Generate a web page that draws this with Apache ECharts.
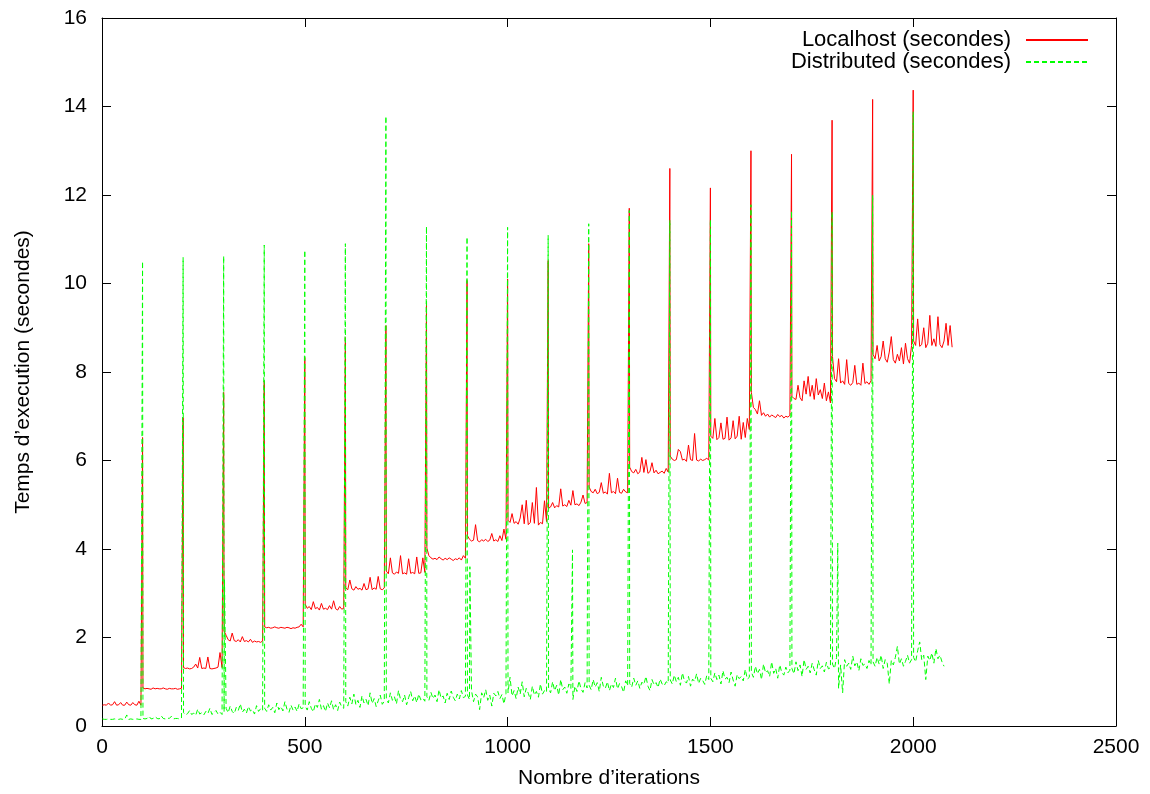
<!DOCTYPE html>
<html>
<head>
<meta charset="utf-8">
<title>Temps d'execution</title>
<script src="https://cdn.jsdelivr.net/npm/echarts@6/dist/echarts.min.js"></script>
<style>
    html, body { margin: 0; padding: 0; background: #fff; }
    #main { width: 1150px; height: 794px; }
</style>
</head>
<body>
<div id="main"></div>
<script>
// une valeur toutes les 5 iterations dans chaque bloc de 100 (x = 100*k + 1 + 5*i)
// le pic du debut de bloc est a x = 100*k
var xTicks = [0, 500, 1000, 1500, 2000, 2500];
var yTicks = [0, 2, 4, 6, 8, 10, 12, 14, 16];

var localSpikes = [6.52, 6.97, 7.54, 7.80, 8.33, 8.78, 9.05, 9.55, 10.07, 10.10,
    10.52, 10.90, 11.70, 12.60, 12.16, 13.00, 12.92, 13.69, 14.16, 14.37];

var localBlocks = [
    [0.47,0.48,0.47,0.52,0.47,0.48,0.55,0.47,0.48,0.53,0.47,0.47,0.54,0.48,0.47,0.53,0.48,0.47,0.56,0.47],
    [0.86,0.84,0.85,0.84,0.83,0.86,0.84,0.85,0.84,0.84,0.86,0.84,0.83,0.85,0.84,0.84,0.85,0.83,0.84,0.85],
    [1.32,1.30,1.31,1.29,1.30,1.33,1.40,1.31,1.55,1.30,1.31,1.30,1.56,1.30,1.29,1.30,1.31,1.33,1.66,1.32],
    [2.15,2.05,1.95,1.92,2.10,1.93,1.91,1.95,1.90,2.02,1.91,1.93,1.90,1.96,1.89,1.92,1.90,1.91,1.89,1.92],
    [2.24,2.22,2.23,2.21,2.22,2.24,2.22,2.21,2.23,2.22,2.21,2.23,2.22,2.20,2.22,2.21,2.23,2.24,2.30,2.24],
    [2.75,2.66,2.70,2.63,2.81,2.65,2.68,2.62,2.77,2.64,2.66,2.63,2.72,2.64,2.83,2.65,2.62,2.70,2.64,2.66],
    [3.12,3.08,3.30,3.10,3.07,3.15,3.09,3.11,3.07,3.22,3.08,3.10,3.36,3.08,3.12,3.09,3.38,3.10,3.08,3.12],
    [3.50,3.44,3.80,3.46,3.43,3.48,3.45,3.85,3.44,3.46,3.43,3.78,3.45,3.47,3.44,3.82,3.45,3.46,3.80,3.47],
    [4.02,3.85,3.80,3.77,3.79,3.76,3.82,3.78,3.75,3.79,3.76,3.80,3.77,3.74,3.78,3.76,3.80,3.75,3.85,3.79],
    [4.30,4.22,4.18,4.20,4.55,4.19,4.16,4.21,4.18,4.22,4.17,4.20,4.35,4.18,4.21,4.17,4.30,4.19,4.45,4.22],
    [4.65,4.60,4.80,4.58,4.62,4.56,4.70,5.00,4.57,5.10,4.55,4.60,5.05,4.58,5.39,4.54,4.60,4.57,5.09,4.62],
    [4.92,4.95,5.05,4.93,4.98,4.95,5.36,4.97,5.00,4.96,5.10,4.99,5.32,5.00,5.02,4.98,5.06,5.22,5.03,5.05],
    [5.40,5.30,5.27,5.35,5.25,5.28,5.50,5.26,5.29,5.24,5.71,5.27,5.30,5.25,5.60,5.28,5.26,5.35,5.29,5.27],
    [5.85,5.75,5.72,5.80,5.70,5.74,6.07,5.73,6.02,5.71,5.75,5.95,5.72,5.78,5.70,5.73,5.76,5.71,5.82,5.74],
    [6.10,6.03,6.00,6.02,6.25,6.20,6.01,6.03,5.98,6.35,6.02,6.00,6.61,6.01,5.99,6.03,6.00,6.02,6.05,6.01],
    [6.55,6.50,6.95,6.47,6.52,6.85,6.48,6.50,6.98,6.46,6.51,6.90,6.49,6.55,7.00,6.48,6.86,6.52,6.95,6.70],
    [7.54,7.20,7.15,7.05,7.35,7.02,7.08,7.00,7.05,6.98,7.03,7.00,6.97,7.04,6.99,7.02,6.96,7.00,6.98,7.02],
    [7.45,7.40,7.38,7.70,7.42,7.35,7.80,7.50,7.90,7.45,7.70,7.38,7.85,7.48,7.60,7.40,7.75,7.35,7.55,7.30],
    [8.35,7.85,7.78,8.30,7.75,7.80,7.72,8.28,7.74,7.70,7.76,8.15,7.72,7.75,7.70,8.20,7.74,7.78,7.72,7.80],
    [8.40,8.30,8.60,8.25,8.35,8.70,8.30,8.22,8.45,8.80,8.28,8.20,8.40,8.25,8.55,8.18,8.65,8.30,8.20,8.60],
    [8.70,8.60,9.20,8.58,8.62,9.00,8.55,8.65,9.28,8.60,8.75,8.58,9.25,8.62,8.55,8.70,9.10,8.60,9.05,8.56]
];

var distSpikes = [10.50, 10.59, 10.62, 10.87, 10.75, 10.90, 13.78, 11.29, 11.05, 11.27,
    11.09, 11.35, 11.65, 11.43, 11.44, 11.78, 11.64, 11.62, 12.00, 13.88];

var distBlocks = [
    [0.16,0.15,0.15,0.16,0.15,0.15,0.16,0.15,0.15,0.16,0.15,0.15,0.25,0.15,0.16,0.15,0.15,0.16,0.15,0.15],
    [0.17,0.16,0.17,0.22,0.16,0.17,0.21,0.17,0.16,0.23,0.17,0.16,0.18,0.17,0.22,0.16,0.17,0.17,0.16,0.18],
    [0.30,0.25,0.28,0.35,0.26,0.29,0.24,0.38,0.27,0.30,0.25,0.33,0.28,0.40,0.26,0.30,0.35,0.27,0.31,0.26],
    [0.32,0.40,0.30,0.45,0.33,0.28,0.42,0.35,0.50,0.31,0.38,0.29,0.44,0.34,0.37,0.27,0.46,0.33,0.39,0.35],
    [0.40,0.33,0.48,0.36,0.42,0.30,0.52,0.37,0.44,0.34,0.55,0.38,0.31,0.47,0.36,0.43,0.33,0.50,0.39,0.41],
    [0.45,0.36,0.55,0.40,0.32,0.50,0.42,0.60,0.38,0.46,0.33,0.52,0.41,0.57,0.37,0.48,0.35,0.54,0.43,0.40],
    [0.55,0.45,0.65,0.50,0.72,0.48,0.58,0.42,0.68,0.52,0.60,0.46,0.75,0.51,0.62,0.44,0.57,0.70,0.49,0.56],
    [0.62,0.52,0.75,0.58,0.66,0.50,0.80,0.60,0.55,0.70,0.48,0.64,0.78,0.57,0.68,0.53,0.72,0.59,0.63,0.56],
    [0.66,0.58,0.76,0.62,0.70,0.55,0.82,0.63,0.68,0.52,0.74,0.60,0.79,0.65,0.57,0.72,0.61,0.80,0.64,0.67],
    [0.70,0.60,0.80,0.55,0.72,0.66,0.37,0.75,0.64,0.82,0.58,0.70,0.45,0.74,0.68,0.78,0.62,0.71,0.50,0.73],
    [0.75,1.10,0.68,0.80,0.62,0.88,0.72,1.00,0.66,0.85,0.74,0.60,0.90,0.70,0.78,0.65,0.95,0.72,0.80,0.76],
    [0.85,0.75,1.00,0.80,0.92,0.70,1.05,0.82,0.88,0.74,0.95,0.85,0.60,0.90,0.78,1.02,0.84,0.76,0.98,0.86],
    [0.92,0.82,1.05,0.88,0.98,0.78,1.10,0.90,0.85,1.00,0.80,0.95,0.87,1.08,0.84,0.96,0.89,0.76,1.02,0.91],
    [0.96,0.88,1.08,0.92,1.02,0.85,0.99,0.94,1.12,0.90,0.80,1.05,0.93,0.98,0.87,1.06,0.95,0.91,1.00,0.97],
    [1.04,0.95,1.15,1.00,1.10,0.92,1.20,1.02,0.97,1.12,0.90,1.06,1.01,1.18,0.96,1.08,1.03,0.94,1.14,1.05],
    [1.08,1.00,1.20,1.05,1.15,0.95,1.25,1.06,1.10,0.98,1.22,1.04,0.90,1.16,1.07,1.12,1.02,1.28,1.06,1.10],
    [1.22,1.10,1.35,1.18,1.28,1.05,1.40,1.20,1.25,1.12,1.45,1.19,1.30,1.08,1.38,1.21,1.15,1.33,1.20,1.26],
    [1.30,1.18,1.45,1.25,1.38,1.12,1.50,1.28,1.35,1.20,1.42,1.27,1.15,1.48,1.30,1.36,1.22,1.44,1.29,1.32],
    [1.40,1.30,1.55,0.85,1.38,0.75,1.50,1.35,1.42,1.28,1.58,1.36,1.45,1.25,1.52,1.37,1.40,1.30,1.48,1.38],
    [1.45,1.35,1.55,1.40,1.60,1.30,1.50,1.42,0.95,1.48,1.38,1.55,1.80,1.40,1.52,1.35,1.46,1.60,1.42,1.50],
    [1.55,1.45,1.70,1.90,1.50,1.60,1.05,1.58,1.48,1.65,1.42,1.75,1.52,1.60,1.45,1.35]
];

// pics isoles de la courbe distribuee [iteration, secondes]
var distExtra = [[302, 3.30], [907, 3.60], [1160, 3.98], [1814, 4.13]];

function buildData(blocks, spikes, extra) {
    var data = [];
    for (var k = 0; k < blocks.length; k++) {
        if (k > 0) {
            data.push([k * 100, spikes[k - 1]]);
        }
        for (var i = 0; i < blocks[k].length; i++) {
            data.push([k * 100 + 1 + i * 5, blocks[k][i]]);
        }
    }
    if (extra) {
        data = data.concat(extra);
        data.sort(function (a, b) { return a[0] - b[0]; });
    }
    return data;
}

var fontName = "'Liberation Sans', Arial, Helvetica, sans-serif";
var tickStyle = {show: true, inside: true, length: 9, lineStyle: {color: '#000', width: 1}};
var lineAxis = {show: true, onZero: false, lineStyle: {color: '#000', width: 1}};
var plainNumber = function (v) { return String(v); };

var myChart = echarts.init(document.getElementById('main'), null, {renderer: 'canvas'});

var option = {
    animation: false,
    backgroundColor: '#fff',
    textStyle: {fontFamily: fontName, color: '#000'},
    grid: {left: 102, right: 34, top: 18, bottom: 68, containLabel: false},
    legend: [
        {
            data: ['Localhost (secondes)'],
            right: 61, top: 29,
            padding: 0,
            align: 'right',
            itemWidth: 62, itemHeight: 14,
            itemStyle: {opacity: 0},
            selectedMode: false,
            textStyle: {fontFamily: fontName, fontSize: 22, color: '#000', padding: [0, 10, 0, 0]}
        },
        {
            data: ['Distributed (secondes)'],
            right: 61, top: 51,
            padding: 0,
            align: 'right',
            itemWidth: 62, itemHeight: 14,
            itemStyle: {opacity: 0},
            selectedMode: false,
            textStyle: {fontFamily: fontName, fontSize: 22, color: '#000', padding: [0, 10, 0, 0]}
        }
    ],
    xAxis: [
        {
            type: 'value',
            position: 'bottom',
            min: xTicks[0], max: xTicks[xTicks.length - 1], interval: 500,
            name: 'Nombre d\u2019iterations',
            nameLocation: 'middle',
            nameGap: 42,
            nameTextStyle: {fontFamily: fontName, fontSize: 21, color: '#000'},
            axisLine: lineAxis,
            axisTick: tickStyle,
            splitLine: {show: false},
            axisLabel: {fontFamily: fontName, fontSize: 21, color: '#000', margin: 11,
                showMinLabel: true, showMaxLabel: true, formatter: plainNumber}
        },
        {
            type: 'value',
            position: 'top',
            min: xTicks[0], max: xTicks[xTicks.length - 1], interval: 500,
            axisLine: lineAxis,
            axisTick: tickStyle,
            splitLine: {show: false},
            axisLabel: {show: false}
        }
    ],
    yAxis: [
        {
            type: 'value',
            position: 'left',
            min: yTicks[0], max: yTicks[yTicks.length - 1], interval: 2,
            name: 'Temps d\u2019execution (secondes)',
            nameLocation: 'middle',
            nameGap: 68,
            nameTextStyle: {fontFamily: fontName, fontSize: 21, color: '#000'},
            axisLine: lineAxis,
            axisTick: tickStyle,
            splitLine: {show: false},
            axisLabel: {fontFamily: fontName, fontSize: 21, color: '#000', margin: 15,
                showMinLabel: true, showMaxLabel: true, formatter: plainNumber}
        },
        {
            type: 'value',
            position: 'right',
            min: yTicks[0], max: yTicks[yTicks.length - 1], interval: 2,
            axisLine: lineAxis,
            axisTick: tickStyle,
            splitLine: {show: false},
            axisLabel: {show: false}
        }
    ],
    series: [
        {
            name: 'Localhost (secondes)',
            type: 'line',
            xAxisIndex: 0, yAxisIndex: 0,
            data: buildData(localBlocks, localSpikes),
            symbol: 'none',
            showSymbol: false,
            sampling: null,
            color: '#ff0000',
            lineStyle: {color: '#ff0000', width: 1}
        },
        {
            name: 'Distributed (secondes)',
            type: 'line',
            xAxisIndex: 0, yAxisIndex: 0,
            data: buildData(distBlocks, distSpikes, distExtra),
            symbol: 'none',
            showSymbol: false,
            sampling: null,
            color: '#00ff00',
            lineStyle: {color: '#00ff00', width: 1, type: [5, 3]}
        }
    ]
};

myChart.setOption(option);
</script>
</body>
</html>
